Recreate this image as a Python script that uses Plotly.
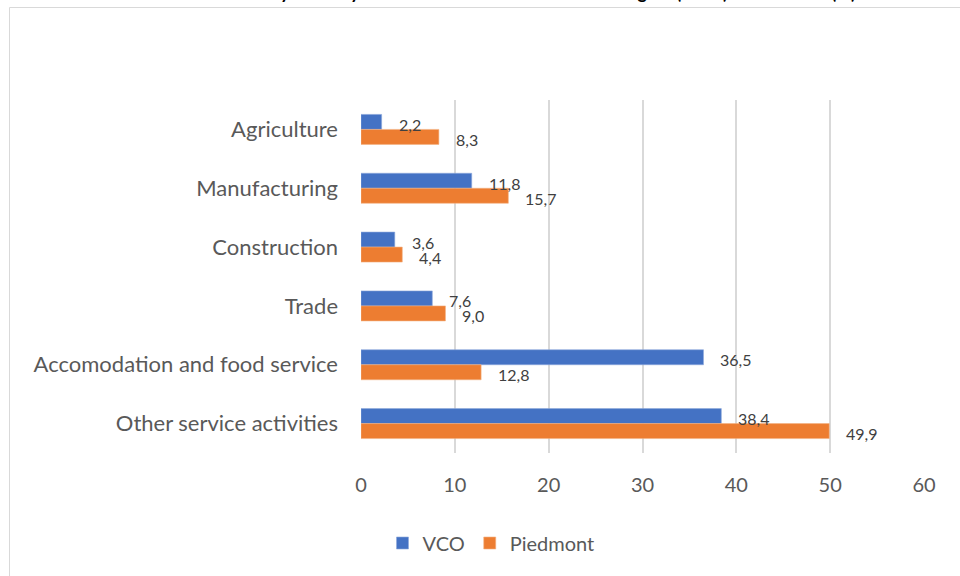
import plotly.graph_objects as go

categories = ["Agriculture", "Manufacturing", "Construction", "Trade",
              "Accomodation and food service", "Other service activities"]
vco = [2.2, 11.8, 3.6, 7.6, 36.5, 38.4]
piedmont = [8.3, 15.7, 4.4, 9.0, 12.8, 49.9]
x_ticks = [0, 10, 20, 30, 40, 50, 60]
series_names = ["VCO", "Piedmont"]
title_text = "Share of local units by industry in the VCO and in the Piedmont region (2019) and its total (%)"

BLUE = "#4472C4"
ORANGE = "#ED7D31"
FONT = "Lato, Calibri, Carlito, sans-serif"

W, H = 960, 576
L, R, T, B = 361, 36, 100, 123
pw, ph = W - L - R, H - T - B

def px_to_paper_x(px):
    return (px - L) / pw

def px_to_paper_y(py):
    return (H - B - py) / ph

fig = go.Figure()
fig.add_trace(go.Bar(y=categories, x=vco, name=series_names[0], orientation="h",
                     marker=dict(color=BLUE, line=dict(width=0.6, color="#8fa9dc"))))
fig.add_trace(go.Bar(y=categories, x=piedmont, name=series_names[1], orientation="h",
                     marker=dict(color=ORANGE, line=dict(width=0.6, color="#f4b183"))))

annotations = []
for cat, v in zip(categories, vco):
    annotations.append(dict(x=v, y=cat, xref="x", yref="y", text=f"{v:.1f}".replace(".", ","),
                            showarrow=False, xanchor="left", xshift=15, yshift=5,
                            font=dict(family=FONT, size=16, color="#404040")))
for cat, v in zip(categories, piedmont):
    annotations.append(dict(x=v, y=cat, xref="x", yref="y", text=f"{v:.1f}".replace(".", ","),
                            showarrow=False, xanchor="left", xshift=15, yshift=-10,
                            font=dict(family=FONT, size=16, color="#404040")))

# title, clipped at the top edge as in the reference
annotations.append(dict(x=px_to_paper_x(485), y=px_to_paper_y(5), xref="paper", yref="paper",
                        text=f"<b>{title_text}</b>", showarrow=False, xanchor="center", yanchor="bottom",
                        font=dict(family=FONT, size=18, color="#000000")))

fig.update_layout(
    width=W, height=H,
    margin=dict(l=L, r=R, t=T, b=B, pad=0),
    paper_bgcolor="white", plot_bgcolor="white",
    barmode="group", bargap=0.49, bargroupgap=0,
    font=dict(family=FONT, color="#404040"),
    showlegend=True,
    legend=dict(orientation="h", x=px_to_paper_x(491), xanchor="center",
                y=px_to_paper_y(543), yanchor="middle",
                font=dict(family=FONT, size=20, color="#595959"),
                itemwidth=30, traceorder="normal"),
    annotations=annotations,
    shapes=[dict(type="rect", xref="paper", yref="paper",
                 x0=px_to_paper_x(9.5), x1=px_to_paper_x(975),
                 y0=px_to_paper_y(590), y1=px_to_paper_y(7.5),
                 line=dict(color="#d9d9d9", width=1), fillcolor="rgba(0,0,0,0)", layer="below")],
)
fig.update_xaxes(range=[0, 60], tickvals=x_ticks, ticktext=[str(t) for t in x_ticks],
                 showgrid=True, gridcolor="#d9d9d9", gridwidth=1.5,
                 zeroline=False, showline=False, ticks="",
                 tickfont=dict(family=FONT, size=20, color="#595959"),
                 ticklabelstandoff=18)
fig.update_yaxes(categoryorder="array", categoryarray=categories, autorange="reversed",
                 showgrid=False, zeroline=False, showline=False, ticks="",
                 tickfont=dict(family=FONT, size=22, color="#595959"),
                 ticklabelstandoff=22)

fig.write_html("out.html")
